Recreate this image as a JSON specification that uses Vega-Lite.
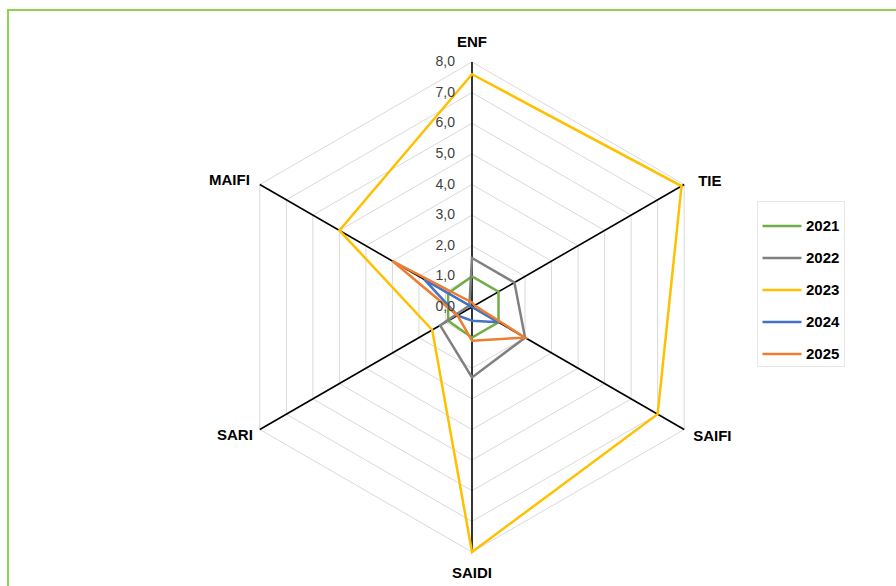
{
  "$schema": "https://vega.github.io/schema/vega-lite/v6.json",
  "width": 900,
  "height": 590,
  "autosize": "none",
  "padding": {"left": 8, "top": 10, "right": 0, "bottom": 0},
  "background": "white",
  "config": {"view": {"stroke": "#92D050", "strokeWidth": 2}, "font": "Liberation Sans"},
  "datasets": {
    "series": [
      {"year": "2021", "axis": "ENF", "value": 1.0},
      {"year": "2021", "axis": "TIE", "value": 1.0},
      {"year": "2021", "axis": "SAIFI", "value": 1.0},
      {"year": "2021", "axis": "SAIDI", "value": 1.0},
      {"year": "2021", "axis": "SARI", "value": 0.9},
      {"year": "2021", "axis": "MAIFI", "value": 0.9},
      {"year": "2022", "axis": "ENF", "value": 1.6},
      {"year": "2022", "axis": "TIE", "value": 1.6},
      {"year": "2022", "axis": "SAIFI", "value": 2.0},
      {"year": "2022", "axis": "SAIDI", "value": 2.3},
      {"year": "2022", "axis": "SARI", "value": 1.2},
      {"year": "2022", "axis": "MAIFI", "value": 0.1},
      {"year": "2023", "axis": "ENF", "value": 7.6},
      {"year": "2023", "axis": "TIE", "value": 7.9},
      {"year": "2023", "axis": "SAIFI", "value": 7.0},
      {"year": "2023", "axis": "SAIDI", "value": 8.0},
      {"year": "2023", "axis": "SARI", "value": 1.5},
      {"year": "2023", "axis": "MAIFI", "value": 5.0},
      {"year": "2024", "axis": "ENF", "value": 0.0},
      {"year": "2024", "axis": "TIE", "value": 0.0},
      {"year": "2024", "axis": "SAIFI", "value": 1.0},
      {"year": "2024", "axis": "SAIDI", "value": 0.45},
      {"year": "2024", "axis": "SARI", "value": 0.55},
      {"year": "2024", "axis": "MAIFI", "value": 1.8},
      {"year": "2025", "axis": "ENF", "value": 0.15},
      {"year": "2025", "axis": "TIE", "value": 0.1},
      {"year": "2025", "axis": "SAIFI", "value": 2.0},
      {"year": "2025", "axis": "SAIDI", "value": 1.1},
      {"year": "2025", "axis": "SARI", "value": 0.55},
      {"year": "2025", "axis": "MAIFI", "value": 3.0}
    ],
    "grid": [
      {"level": 1, "axes": ["ENF", "TIE", "SAIFI", "SAIDI", "SARI", "MAIFI"]},
      {"level": 2, "axes": ["ENF", "TIE", "SAIFI", "SAIDI", "SARI", "MAIFI"]},
      {"level": 3, "axes": ["ENF", "TIE", "SAIFI", "SAIDI", "SARI", "MAIFI"]},
      {"level": 4, "axes": ["ENF", "TIE", "SAIFI", "SAIDI", "SARI", "MAIFI"]},
      {"level": 5, "axes": ["ENF", "TIE", "SAIFI", "SAIDI", "SARI", "MAIFI"]},
      {"level": 6, "axes": ["ENF", "TIE", "SAIFI", "SAIDI", "SARI", "MAIFI"]},
      {"level": 7, "axes": ["ENF", "TIE", "SAIFI", "SAIDI", "SARI", "MAIFI"]},
      {"level": 8, "axes": ["ENF", "TIE", "SAIFI", "SAIDI", "SARI", "MAIFI"]}
    ],
    "ticks": [
      {"level": 0}, {"level": 1}, {"level": 2}, {"level": 3}, {"level": 4},
      {"level": 5}, {"level": 6}, {"level": 7}, {"level": 8}
    ],
    "spokes": [
      {"axis": "ENF", "max": 8}, {"axis": "TIE", "max": 8}, {"axis": "SAIFI", "max": 8},
      {"axis": "SAIDI", "max": 8}, {"axis": "SARI", "max": 8}, {"axis": "MAIFI", "max": 8}
    ]
  },
  "layer": [
    {
      "data": {"name": "grid"},
      "transform": [
        {"flatten": ["axes"], "as": ["axis"]},
        {"calculate": "indexof(['ENF','TIE','SAIFI','SAIDI','SARI','MAIFI'], datum.axis)", "as": "idx"},
        {"calculate": "datum.level*sin(datum.idx*PI/3)", "as": "px"},
        {"calculate": "datum.level*cos(datum.idx*PI/3)", "as": "py"}
      ],
      "mark": {"type": "line", "interpolate": "linear-closed", "stroke": "#D9D9D9", "strokeWidth": 1},
      "encoding": {
        "x": {"field": "px", "type": "quantitative", "scale": {"domain": [-15.151, 14.237], "nice": false, "zero": false}, "axis": null},
        "y": {"field": "py", "type": "quantitative", "scale": {"domain": [-9.567, 9.698], "nice": false, "zero": false}, "axis": null},
        "detail": {"field": "level", "type": "nominal"},
        "order": {"field": "idx", "type": "quantitative"}
      }
    },
    {
      "data": {"name": "spokes"},
      "transform": [
        {"calculate": "indexof(['ENF','TIE','SAIFI','SAIDI','SARI','MAIFI'], datum.axis)", "as": "idx"},
        {"calculate": "datum.max*sin(datum.idx*PI/3)", "as": "px"},
        {"calculate": "datum.max*cos(datum.idx*PI/3)", "as": "py"},
        {"calculate": "0", "as": "ox"}
      ],
      "mark": {"type": "rule", "stroke": "#000000", "strokeWidth": 1.6},
      "encoding": {
        "x": {"field": "ox", "type": "quantitative"},
        "y": {"field": "ox", "type": "quantitative"},
        "x2": {"field": "px"},
        "y2": {"field": "py"}
      }
    },
    {
      "data": {"name": "series"},
      "transform": [
        {"calculate": "indexof(['ENF','TIE','SAIFI','SAIDI','SARI','MAIFI'], datum.axis)", "as": "idx"},
        {"calculate": "datum.value*sin(datum.idx*PI/3)", "as": "px"},
        {"calculate": "datum.value*cos(datum.idx*PI/3)", "as": "py"}
      ],
      "mark": {"type": "line", "interpolate": "linear-closed", "strokeWidth": 2.5},
      "encoding": {
        "x": {"field": "px", "type": "quantitative"},
        "y": {"field": "py", "type": "quantitative"},
        "order": {"field": "idx", "type": "quantitative"},
        "color": {
          "field": "year", "type": "nominal",
          "scale": {"domain": ["2021", "2022", "2023", "2024", "2025"], "range": ["#70AD47", "#808080", "#FFC000", "#4472C4", "#ED7D31"]},
          "legend": {
            "orient": "none", "legendX": 749, "legendY": 191, "title": null,
            "symbolType": "stroke", "symbolSize": 1521, "symbolStrokeWidth": 2.5,
            "labelFontSize": 15, "labelFontWeight": "bold", "labelColor": "#000000", "labelFont": "Liberation Sans",
            "labelOffset": 3, "fillColor": "white", "strokeColor": "#E6E6E6", "padding": 4, "rowPadding": 3
          }
        }
      }
    },
    {
      "data": {"name": "ticks"},
      "transform": [
        {"calculate": "replace(format(datum.level, '.1f'), '.', ',')", "as": "label"},
        {"calculate": "0", "as": "ox"}
      ],
      "mark": {"type": "text", "align": "right", "baseline": "middle", "dx": -17, "fontSize": 14, "color": "#404040", "font": "Liberation Sans"},
      "encoding": {
        "x": {"field": "ox", "type": "quantitative"},
        "y": {"field": "level", "type": "quantitative"},
        "text": {"field": "label", "type": "nominal"}
      }
    },
    {
      "data": {"name": "spokes"},
      "transform": [
        {"calculate": "indexof(['ENF','TIE','SAIFI','SAIDI','SARI','MAIFI'], datum.axis)", "as": "idx"},
        {"calculate": "datum.max*sin(datum.idx*PI/3)", "as": "px"},
        {"calculate": "datum.max*cos(datum.idx*PI/3)", "as": "py"},
        {"filter": "datum.axis == 'ENF'"}
      ],
      "mark": {"type": "text", "align": "center", "baseline": "middle", "dy": -20, "fontSize": 15, "fontWeight": "bold", "color": "#000000", "font": "Liberation Sans"},
      "encoding": {"x": {"field": "px", "type": "quantitative"}, "y": {"field": "py", "type": "quantitative"}, "text": {"field": "axis", "type": "nominal"}}
    },
    {
      "data": {"name": "spokes"},
      "transform": [
        {"calculate": "indexof(['ENF','TIE','SAIFI','SAIDI','SARI','MAIFI'], datum.axis)", "as": "idx"},
        {"calculate": "datum.max*sin(datum.idx*PI/3)", "as": "px"},
        {"calculate": "datum.max*cos(datum.idx*PI/3)", "as": "py"},
        {"filter": "datum.axis == 'SAIDI'"}
      ],
      "mark": {"type": "text", "align": "center", "baseline": "middle", "dy": 21, "fontSize": 15, "fontWeight": "bold", "color": "#000000", "font": "Liberation Sans"},
      "encoding": {"x": {"field": "px", "type": "quantitative"}, "y": {"field": "py", "type": "quantitative"}, "text": {"field": "axis", "type": "nominal"}}
    },
    {
      "data": {"name": "spokes"},
      "transform": [
        {"calculate": "indexof(['ENF','TIE','SAIFI','SAIDI','SARI','MAIFI'], datum.axis)", "as": "idx"},
        {"calculate": "datum.max*sin(datum.idx*PI/3)", "as": "px"},
        {"calculate": "datum.max*cos(datum.idx*PI/3)", "as": "py"},
        {"filter": "datum.axis == 'TIE'"}
      ],
      "mark": {"type": "text", "align": "left", "baseline": "middle", "dx": 14, "dy": -4, "fontSize": 15, "fontWeight": "bold", "color": "#000000", "font": "Liberation Sans"},
      "encoding": {"x": {"field": "px", "type": "quantitative"}, "y": {"field": "py", "type": "quantitative"}, "text": {"field": "axis", "type": "nominal"}}
    },
    {
      "data": {"name": "spokes"},
      "transform": [
        {"calculate": "indexof(['ENF','TIE','SAIFI','SAIDI','SARI','MAIFI'], datum.axis)", "as": "idx"},
        {"calculate": "datum.max*sin(datum.idx*PI/3)", "as": "px"},
        {"calculate": "datum.max*cos(datum.idx*PI/3)", "as": "py"},
        {"filter": "datum.axis == 'SAIFI'"}
      ],
      "mark": {"type": "text", "align": "left", "baseline": "middle", "dx": 9, "dy": 6, "fontSize": 15, "fontWeight": "bold", "color": "#000000", "font": "Liberation Sans"},
      "encoding": {"x": {"field": "px", "type": "quantitative"}, "y": {"field": "py", "type": "quantitative"}, "text": {"field": "axis", "type": "nominal"}}
    },
    {
      "data": {"name": "spokes"},
      "transform": [
        {"calculate": "indexof(['ENF','TIE','SAIFI','SAIDI','SARI','MAIFI'], datum.axis)", "as": "idx"},
        {"calculate": "datum.max*sin(datum.idx*PI/3)", "as": "px"},
        {"calculate": "datum.max*cos(datum.idx*PI/3)", "as": "py"},
        {"filter": "datum.axis == 'MAIFI'"}
      ],
      "mark": {"type": "text", "align": "right", "baseline": "middle", "dx": -10, "dy": -5, "fontSize": 15, "fontWeight": "bold", "color": "#000000", "font": "Liberation Sans"},
      "encoding": {"x": {"field": "px", "type": "quantitative"}, "y": {"field": "py", "type": "quantitative"}, "text": {"field": "axis", "type": "nominal"}}
    },
    {
      "data": {"name": "spokes"},
      "transform": [
        {"calculate": "indexof(['ENF','TIE','SAIFI','SAIDI','SARI','MAIFI'], datum.axis)", "as": "idx"},
        {"calculate": "datum.max*sin(datum.idx*PI/3)", "as": "px"},
        {"calculate": "datum.max*cos(datum.idx*PI/3)", "as": "py"},
        {"filter": "datum.axis == 'SARI'"}
      ],
      "mark": {"type": "text", "align": "right", "baseline": "middle", "dx": -7, "dy": 5, "fontSize": 15, "fontWeight": "bold", "color": "#000000", "font": "Liberation Sans"},
      "encoding": {"x": {"field": "px", "type": "quantitative"}, "y": {"field": "py", "type": "quantitative"}, "text": {"field": "axis", "type": "nominal"}}
    }
  ]
}
